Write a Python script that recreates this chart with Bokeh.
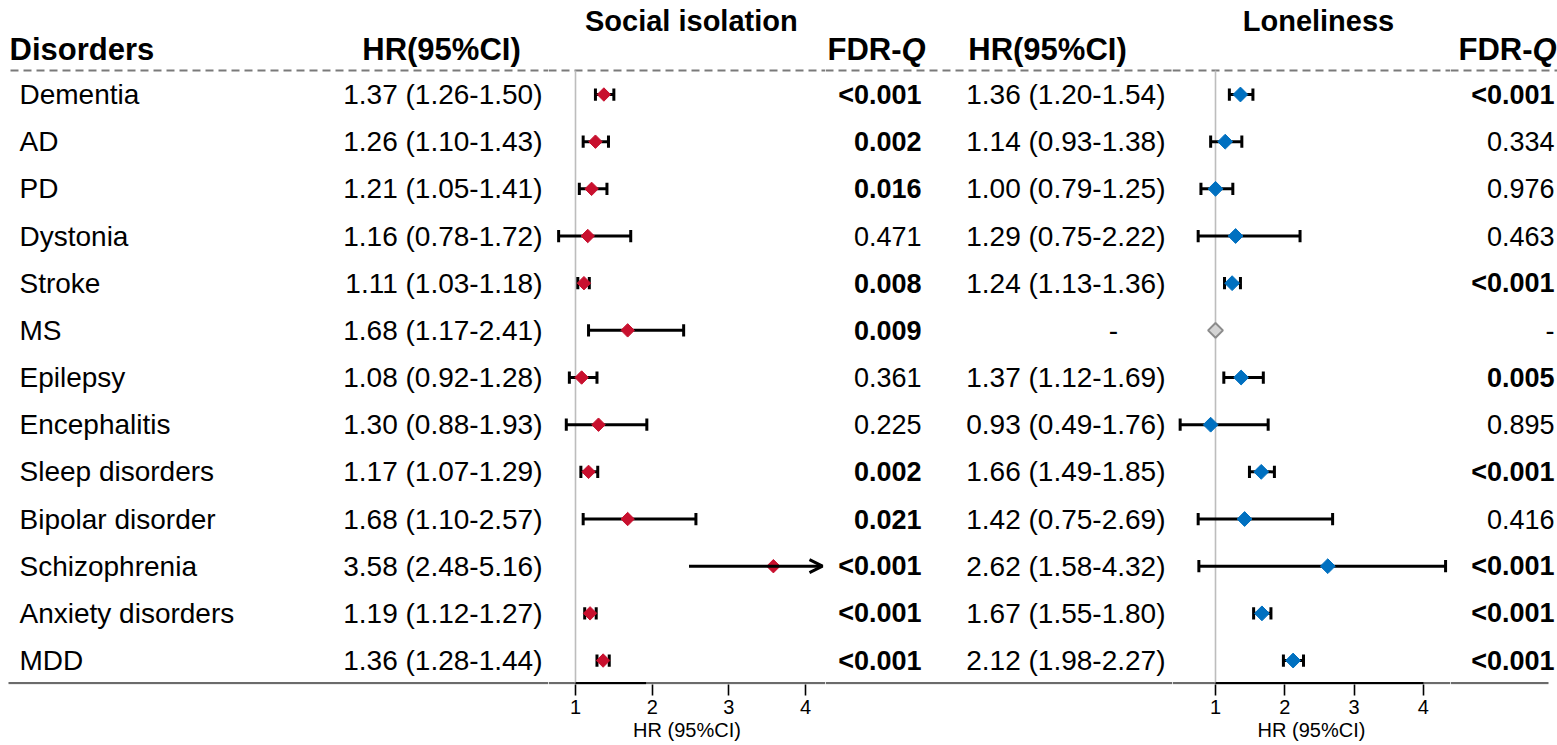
import math
from bokeh.plotting import figure
from bokeh.layouts import row
from bokeh.models import ColumnDataSource, Range1d, LinearAxis, FixedTicker, Arrow, OpenHead
from bokeh.core.properties import value
from bokeh.embed import file_html
from bokeh.resources import INLINE

# ---------------- data ----------------
disorders = ["Dementia", "AD", "PD", "Dystonia", "Stroke", "MS", "Epilepsy", "Encephalitis",
             "Sleep disorders", "Bipolar disorder", "Schizophrenia", "Anxiety disorders", "MDD"]

si_hr = [1.37, 1.26, 1.21, 1.16, 1.11, 1.68, 1.08, 1.30, 1.17, 1.68, 3.58, 1.19, 1.36]
si_lo = [1.26, 1.10, 1.05, 0.78, 1.03, 1.17, 0.92, 0.88, 1.07, 1.10, 2.48, 1.12, 1.28]
si_hi = [1.50, 1.43, 1.41, 1.72, 1.18, 2.41, 1.28, 1.93, 1.29, 2.57, 5.16, 1.27, 1.44]
si_fdr = ["<0.001", "0.002", "0.016", "0.471", "0.008", "0.009", "0.361", "0.225",
          "0.002", "0.021", "<0.001", "<0.001", "<0.001"]

lo_hr = [1.36, 1.14, 1.00, 1.29, 1.24, None, 1.37, 0.93, 1.66, 1.42, 2.62, 1.67, 2.12]
lo_lo = [1.20, 0.93, 0.79, 0.75, 1.13, None, 1.12, 0.49, 1.49, 0.75, 1.58, 1.55, 1.98]
lo_hi = [1.54, 1.38, 1.25, 2.22, 1.36, None, 1.69, 1.76, 1.85, 2.69, 4.32, 1.80, 2.27]
lo_fdr = ["<0.001", "0.334", "0.976", "0.463", "<0.001", "-", "0.005", "0.895",
          "<0.001", "0.416", "<0.001", "<0.001", "<0.001"]
# whisker ends as drawn in the picture (Schizophrenia's lower end is drawn near 0.76)
lo_whisker_lo = [1.20, 0.93, 0.79, 0.75, 1.13, None, 1.12, 0.49, 1.49, 0.75, 0.76, 1.55, 1.98]

ticks = [1, 2, 3, 4]
ref_value = 1.0
si_axis_max = 4.22          # arrow end for clipped intervals (left panel)
si_axis_line_end = 1.92     # black part of the left axis line
lo_axis_line_end = 4.0

# ---------------- style ----------------
FONT = value("Liberation Sans")
RED = "#C8102E"
BLUE = "#0070C0"
H = 745
BB = 61
Y0, Y1 = 12.508, -1.993
HEADER_LINE_Y = -0.509
BOTTOM_LINE_Y = 12.48
HEAD_Y = -0.954
TITLE_Y = -1.548
CAP = 0.13

n = len(disorders)
ys = list(range(n))


def fmt(h, l, u):
    if h is None:
        return "-"
    return f"{h:.2f} ({l:.2f}-{u:.2f})"


def is_bold(s):
    if s.startswith("<"):
        return True
    try:
        return float(s) < 0.05
    except ValueError:
        return False


def make_fig(width, x_range):
    p = figure(width=width, height=H, x_range=x_range, y_range=Range1d(Y0, Y1),
               x_axis_location=None, y_axis_location=None, toolbar_location=None,
               output_backend="svg", min_border_left=0, min_border_right=0,
               min_border_top=0, min_border_bottom=BB, outline_line_color=None,
               background_fill_color="white", border_fill_color="white")
    p.grid.visible = False
    return p


def frame_lines(p, x0, x1, dash_start=None, solid_start=None, solid_end=None):
    p.line([dash_start if dash_start is not None else x0, x1], [HEADER_LINE_Y, HEADER_LINE_Y],
           line_color="#7a7a7a", line_width=2, line_dash="8 5")
    p.line([solid_start if solid_start is not None else x0,
            solid_end if solid_end is not None else x1],
           [BOTTOM_LINE_Y, BOTTOM_LINE_Y], line_color="#6b6b6b", line_width=2.2)


def txt(p, x, y, t, size, align="left", style="normal", color="black", base="middle"):
    p.text(x=x, y=y, text=t, text_font=FONT, text_font_size=size, text_align=align,
           text_baseline=base, text_font_style=style, text_color=color)


HEAD_SIZE = "31px"
ROW_SIZE = "28px"
FDR_SIZE = "27px"

# ---------- A: names + HR (social isolation) ----------
wA = 548
pA = make_fig(wA, Range1d(0, wA))
frame_lines(pA, 0, wA, dash_start=10, solid_start=8)
txt(pA, [9], [HEAD_Y], ["Disorders"], HEAD_SIZE, style="bold")
txt(pA, [441], [HEAD_Y], ["HR(95%CI)"], HEAD_SIZE, align="center", style="bold")
srcA = ColumnDataSource(dict(y=ys, name=disorders,
                             hr=[fmt(h, l, u) for h, l, u in zip(si_hr, si_lo, si_hi)]))
pA.text(x=19, y="y", text="name", source=srcA, text_font=FONT, text_font_size=ROW_SIZE,
        text_baseline="middle", text_color="black")
pA.text(x=542, y="y", text="hr", source=srcA, text_font=FONT, text_font_size=ROW_SIZE,
        text_baseline="middle", text_align="right", text_color="black")


def forest(width, xs, xe, hr, lo, hi, color, title, title_x, axis_max, axis_line_end, msize):
    p = make_fig(width, Range1d(xs, xe))
    frame_lines(p, xs, xe)
    p.line([ref_value, ref_value], [HEADER_LINE_Y, BOTTOM_LINE_Y], line_color="#bdbdbd", line_width=1.6)
    p.line([ref_value, axis_line_end], [BOTTOM_LINE_Y, BOTTOM_LINE_Y], line_color="black", line_width=2.2)
    txt(p, [title_x], [TITLE_Y], [title], "29px", align="center", style="bold")

    seg = dict(y=[], lo=[], hi=[])
    caps = dict(x=[], y0=[], y1=[])
    arrows = []
    pts = dict(x=[], y=[])
    miss = dict(x=[], y=[])
    for y, h, l, u in zip(ys, hr, lo, hi):
        if h is None:
            miss["x"].append(ref_value)
            miss["y"].append(y)
            continue
        pts["x"].append(h)
        pts["y"].append(y)
        if u > axis_max:
            arrows.append((l, y, axis_max))
            continue
        seg["y"].append(y); seg["lo"].append(l); seg["hi"].append(u)
        for c in (l, u):
            caps["x"].append(c); caps["y0"].append(y - CAP); caps["y1"].append(y + CAP)
    p.segment(x0="lo", y0="y", x1="hi", y1="y", source=ColumnDataSource(seg),
              line_color="black", line_width=3)
    p.segment(x0="x", y0="y0", x1="x", y1="y1", source=ColumnDataSource(caps),
              line_color="black", line_width=3)
    for l, y, m in arrows:
        p.add_layout(Arrow(end=OpenHead(size=13, line_width=3, line_color="black"),
                           x_start=l, y_start=y, x_end=m, y_end=y,
                           line_width=3, line_color="black"))
    p.scatter(x="x", y="y", source=ColumnDataSource(pts), marker="square", angle=math.pi / 4,
              size=msize, fill_color=color, line_color=color)
    if miss["x"]:
        p.scatter(x="x", y="y", source=ColumnDataSource(miss), marker="square", angle=math.pi / 4,
                  size=msize, fill_color="#d4d4d4", line_color="#8c8c8c", line_width=2)

    ax = LinearAxis(ticker=FixedTicker(ticks=ticks), axis_label="HR (95%CI)")
    ax.axis_line_color = None
    ax.major_tick_out = 11
    ax.major_tick_in = 0
    ax.minor_tick_line_color = None
    ax.minor_tick_out = 0
    ax.major_tick_line_width = 1.6
    ax.major_tick_line_color = "black"
    ax.major_label_standoff = 4
    ax.major_label_text_font = "Liberation Sans"
    ax.major_label_text_font_size = "20px"
    ax.major_label_text_color = "black"
    ax.axis_label_standoff = 2
    ax.axis_label_text_font = "Liberation Sans"
    ax.axis_label_text_font_size = "20px"
    ax.axis_label_text_font_style = "normal"
    ax.axis_label_text_color = "black"
    p.add_layout(ax, "below")
    return p


# ---------- B: social isolation forest ----------
xB0 = 548
wB = 277
sB = 76.7
xsB = 1 - (575 - xB0) / sB
pB = forest(wB, xsB, xsB + wB / sB, si_hr, si_lo, si_hi, RED, "Social isolation", 2.51,
            si_axis_max, si_axis_line_end, 9.5)

# ---------- C: FDR (SI) + HR (loneliness) ----------
xC0 = xB0 + wB          # 825
wC = 1172 - xC0
pC = make_fig(wC, Range1d(0, wC))
frame_lines(pC, 0, wC)
q_w = 24
txt(pC, [925 - xC0 - q_w], [HEAD_Y], ["FDR-"], HEAD_SIZE, align="right", style="bold")
txt(pC, [925 - xC0], [HEAD_Y], ["Q"], HEAD_SIZE, align="right", style="bold italic")
txt(pC, [1047 - xC0], [HEAD_Y], ["HR(95%CI)"], HEAD_SIZE, align="center", style="bold")
srcC = ColumnDataSource(dict(y=ys, fdr=si_fdr, st=["bold" if is_bold(s) else "normal" for s in si_fdr],
                             hr=[fmt(h, l, u) for h, l, u in zip(lo_hr, lo_lo, lo_hi)]))
pC.text(x=921 - xC0, y="y", text="fdr", source=srcC, text_font=FONT, text_font_size=FDR_SIZE,
        text_baseline="middle", text_align="right", text_font_style="st", text_color="black")
srcC.data["hx"] = [1113 - xC0 if h is None else 1165 - xC0 for h in lo_hr]
srcC.data["ha"] = ["center" if h is None else "right" for h in lo_hr]
pC.text(x="hx", y="y", text="hr", source=srcC, text_font=FONT, text_font_size=ROW_SIZE,
        text_baseline="middle", text_align="ha", text_color="black")

# ---------- D: loneliness forest ----------
xD0 = 1172
wD = 278
sD = 69.3
xsD = 1 - (1215 - xD0) / sD
pD = forest(wD, xsD, xsD + wD / sD, lo_hr, lo_whisker_lo, lo_hi, BLUE, "Loneliness", 2.486,
            99, lo_axis_line_end, 10.5)

# ---------- E: FDR (loneliness) ----------
xE0 = xD0 + wD          # 1450
wE = 1557 - xE0
pE = make_fig(wE, Range1d(0, wE))
frame_lines(pE, 0, wE, solid_end=1548 - xE0)
txt(pE, [1556 - xE0 - q_w], [HEAD_Y], ["FDR-"], HEAD_SIZE, align="right", style="bold")
txt(pE, [1556 - xE0], [HEAD_Y], ["Q"], HEAD_SIZE, align="right", style="bold italic")
srcE = ColumnDataSource(dict(y=ys, fdr=lo_fdr, st=["bold" if is_bold(s) else "normal" for s in lo_fdr]))
pE.text(x=1554 - xE0, y="y", text="fdr", source=srcE, text_font=FONT, text_font_size=FDR_SIZE,
        text_baseline="middle", text_align="right", text_font_style="st", text_color="black")

layout = row(pA, pB, pC, pD, pE, spacing=0)
open("out.html", "w").write(file_html(layout, INLINE))
